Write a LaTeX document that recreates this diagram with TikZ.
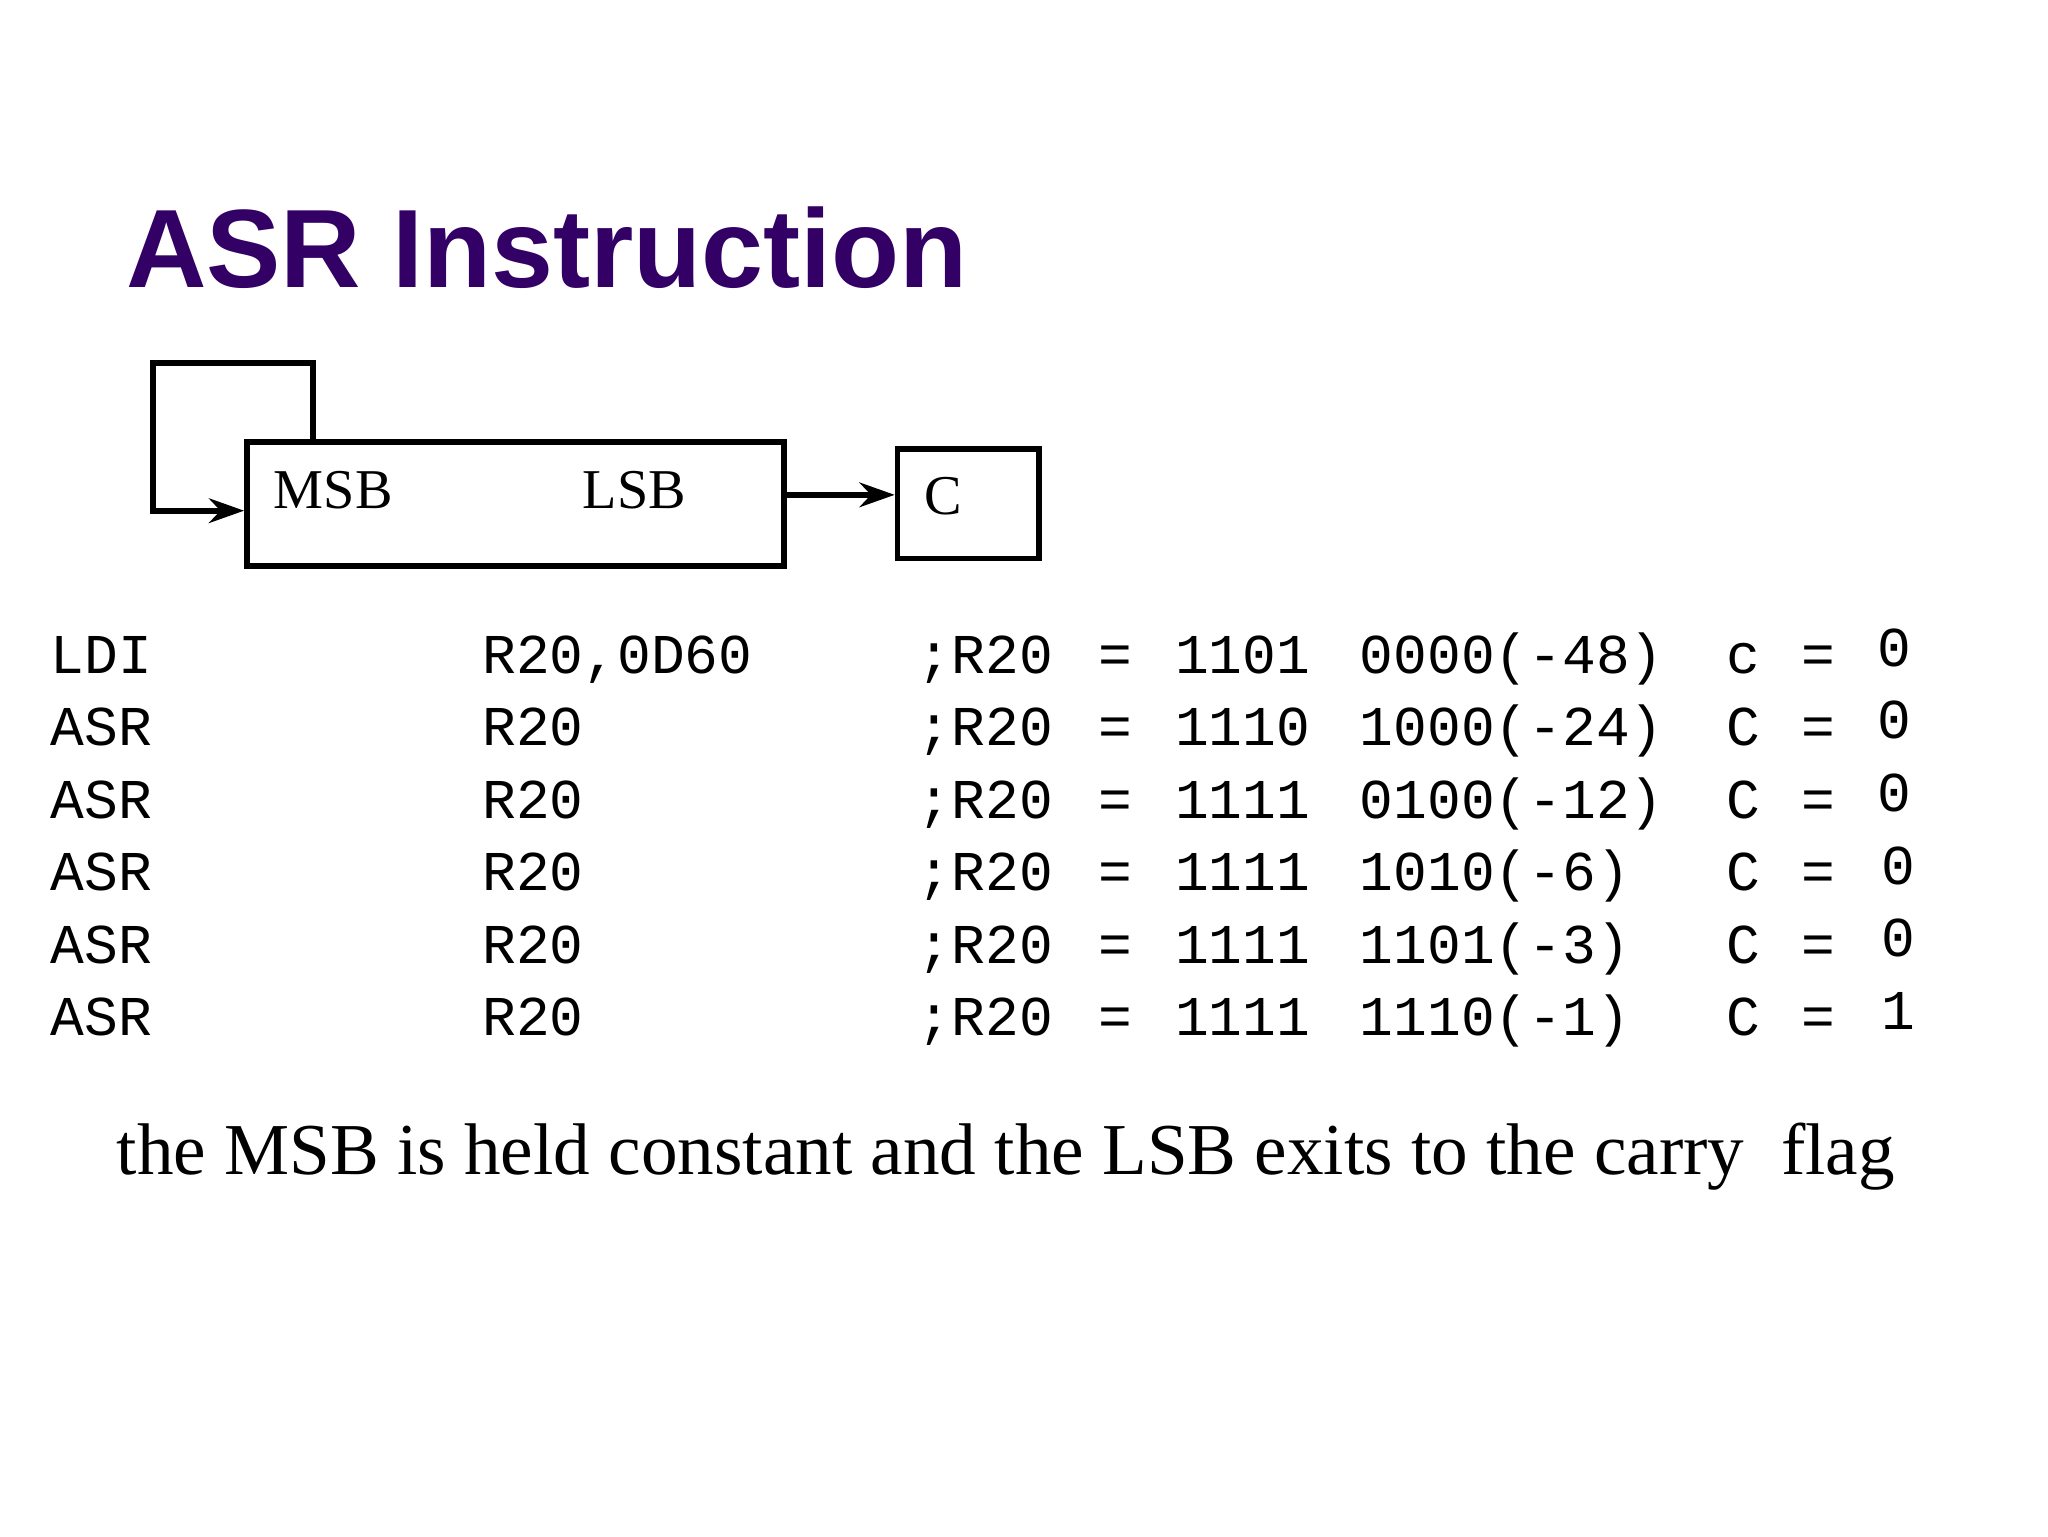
\documentclass[tikz,border=0pt]{standalone}
\usepackage{fontspec}
\setmainfont{Liberation Serif}
\newfontfamily\titlefont{Liberation Sans}
\newfontfamily\monofont{Liberation Mono}
\usetikzlibrary{arrows.meta}
\definecolor{titlepurple}{HTML}{330066}
\begin{document}
\begin{tikzpicture}[x=0.013196cm,y=-0.013196cm,
  mono/.style={anchor=base west,inner sep=0,font=\monofont\fontsize{16}{16}\selectfont},
  lbl/.style={anchor=base west,inner sep=0,font=\fontsize{16}{16}\selectfont},
  wire/.style={line width=1.6pt},
  arr/.style={wire,-{Stealth[length=10pt,width=7pt]}}]
\useasboundingbox[fill=white] (0,0) rectangle (1552,1164);
\node[anchor=base west,inner sep=0,text=titlepurple] (title) at (95,218)
  {\resizebox{8.42cm}{!}{\titlefont\bfseries ASR Instruction}};
\node[draw,wire,minimum width=407*0.013196cm,minimum height=94*0.013196cm,anchor=north west,inner sep=0] (reg) at (185,333) {};
\node[draw,wire,minimum width=107*0.013196cm,minimum height=83*0.013196cm,anchor=north west,inner sep=0] (cbox) at (678,338) {};
\node[lbl] (msb) at (207,385) {MSB};
\node[lbl] (lsb) at (441,385) {LSB};
\node[lbl] (c) at (700,390) {C};
\coordinate (f1) at (237,333);
\coordinate (f2) at (237,275);
\coordinate (f3) at (116,275);
\coordinate (f4) at (116,387);
\coordinate (f5) at (185,387);
\draw[arr] (f1) -- (f2) -- (f3) -- (f4) -- (f5);
\draw[arr] (reg.east|-0,375) -- (cbox.west|-0,375);
\foreach \y/\op/\arg/\bits/\val/\cc [count=\i] in {
  510/LDI/{R20,0D60}/1101/{0000(-48)}/c,
  565/ASR/R20/1110/{1000(-24)}/C,
  620/ASR/R20/1111/{0100(-12)}/C,
  675/ASR/R20/1111/{1010(-6)}/C,
  730/ASR/R20/1111/{1101(-3)}/C,
  785/ASR/R20/1111/{1110(-1)}/C}{
  \node[mono] (op\i) at (38,\y) {\op};
  \node[mono] (arg\i) at (365,\y) {\arg};
  \node[mono] (cm\i) at (695,\y) {;R20};
  \node[mono] (eq\i) at (832,\y) {=};
  \node[mono] (b\i) at (890,\y) {\bits};
  \node[mono] (v\i) at (1030,\y) {\val};
  \node[mono] (cc\i) at (1308,\y) {\cc};
  \node[mono] (ceq\i) at (1365,\y) {=};
}
\node[mono] (z1) at (1422,505) {0};
\node[mono] (z2) at (1422,560) {0};
\node[mono] (z3) at (1422,615) {0};
\node[mono] (z4) at (1425,670) {0};
\node[mono] (z5) at (1425,725) {0};
\node[mono] (z6) at (1425,780) {1};
\node[anchor=base west,inner sep=0] (foot) at (88,890)
  {\resizebox{17.78cm}{!}{the MSB is held constant and the LSB exits to the carry\ \ flag}};
\end{tikzpicture}
\end{document}
